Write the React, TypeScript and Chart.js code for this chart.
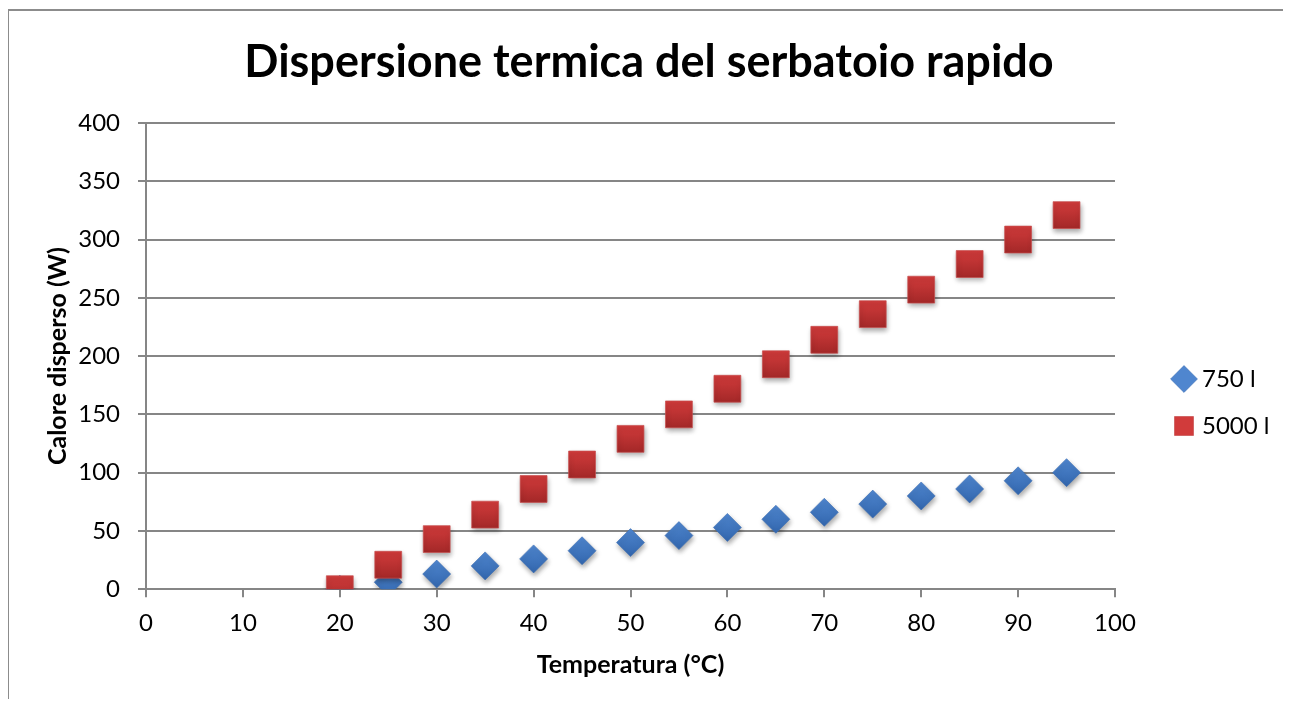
import React, { useEffect, useRef } from "react";
import { Chart, registerables } from "chart.js";

Chart.register(...registerables);

const temps750: number[] = [20, 25, 30, 35, 40, 45, 50, 55, 60, 65, 70, 75, 80, 85, 90, 95];
const heat750: number[] = [0, 6, 13, 20, 26, 33, 40, 46, 53, 60, 66, 73, 80, 86, 93, 100];
const temps5000: number[] = [20, 25, 30, 35, 40, 45, 50, 55, 60, 65, 70, 75, 80, 85, 90, 95];
const heat5000: number[] = [0, 21, 43, 64, 86, 107, 129, 150, 172, 193, 214, 236, 257, 279, 300, 321];
const seriesNames: string[] = ["750 l", "5000 l"];
const titleText = "Dispersione termica del serbatoio rapido";
const xTitle = "Temperatura (°C)";
const yTitle = "Calore disperso (W)";

const FONT = "Lato";
const Y_AXIS_WIDTH = 107;
const LEGEND_WIDTH = 144;
const LEGEND_SHIFT = 40;

function gradFill(top: string, bottom: string, half: number) {
  return (ctx: any) => {
    const chart = ctx.chart;
    const raw = ctx.raw;
    if (!raw || !chart.scales || !chart.scales.y) return top;
    const y = chart.scales.y.getPixelForValue(raw.y);
    if (!isFinite(y)) return top;
    const g = chart.ctx.createLinearGradient(0, y - half, 0, y + half);
    g.addColorStop(0, top);
    g.addColorStop(1, bottom);
    return g;
  };
}

const shadowPlugin = {
  id: "markerShadow",
  beforeDatasetsDraw(chart: any) {
    const c = chart.ctx;
    c.save();
    c.shadowColor = "rgba(0,0,0,0.35)";
    c.shadowBlur = 5;
    c.shadowOffsetX = 1;
    c.shadowOffsetY = 3;
  },
  afterDatasetsDraw(chart: any) {
    chart.ctx.restore();
  },
};

const legendLayoutPlugin = {
  id: "legendLayout",
  beforeLayout(chart: any) {
    const lg = chart.legend;
    if (lg && !lg._patchedFit) {
      const orig = lg.fit.bind(lg);
      lg.fit = function () {
        orig();
        this.width = LEGEND_WIDTH;
      };
      lg._patchedFit = true;
    }
  },
  afterLayout(chart: any) {
    const lg = chart.legend;
    if (lg) {
      lg.left += LEGEND_SHIFT;
      lg.right += LEGEND_SHIFT;
    }
  },
};

export default function App() {
  const ref = useRef<HTMLCanvasElement | null>(null);
  useEffect(() => {
    if (!ref.current) return;
    const chart = new Chart(ref.current, {
      type: "scatter",
      data: {
        datasets: [
          {
            label: seriesNames[0],
            data: temps750.map((t, i) => ({ x: t, y: heat750[i] })),
            order: 1,
            pointStyle: "rectRot",
            pointRadius: 14,
            pointHoverRadius: 14,
            backgroundColor: gradFill("#4f86cf", "#3266ad", 14),
            borderColor: "rgba(60,110,180,0.6)",
            borderWidth: 1,
          },
          {
            label: seriesNames[1],
            data: temps5000.map((t, i) => ({ x: t, y: heat5000[i] })),
            order: 0,
            pointStyle: "rect",
            pointRadius: 19,
            pointHoverRadius: 19,
            backgroundColor: gradFill("#d13b3b", "#a42828", 13),
            borderColor: "rgba(200,80,80,0.7)",
            borderWidth: 1,
          },
        ],
      },
      options: {
        animation: false,
        responsive: false,
        maintainAspectRatio: false,
        layout: { padding: { left: 30, right: 30, top: 0, bottom: 15 } },
        plugins: {
          title: {
            display: true,
            text: titleText,
            color: "#000",
            font: { family: FONT, size: 45, weight: "bold" },
            padding: { top: 24, bottom: 34 },
          },
          legend: {
            position: "right",
            reverse: true,
            title: { display: true, text: " ", font: { size: 10 }, padding: { top: 0, bottom: 98 } },
            labels: {
              usePointStyle: true,
              color: "#000",
              font: { family: FONT, size: 24 },
              padding: 23,
              boxWidth: 12,
              boxHeight: 19,
            },
          },
          tooltip: { enabled: false },
        },
        scales: {
          x: {
            type: "linear",
            min: 0,
            max: 100,
            ticks: { stepSize: 10, color: "#000", font: { family: FONT, size: 24 }, padding: 12 },
            grid: { drawOnChartArea: false, drawTicks: true, tickLength: 8, color: "#868686", lineWidth: 2 },
            border: { display: true, color: "#868686", width: 2 },
            title: {
              display: true,
              text: xTitle,
              color: "#000",
              font: { family: FONT, size: 25, weight: "bold" },
              padding: { top: 0, bottom: 4 },
            },
          },
          y: {
            type: "linear",
            min: 0,
            max: 400,
            afterFit: (scale: any) => {
              scale.width = Y_AXIS_WIDTH;
            },
            ticks: { stepSize: 50, color: "#000", font: { family: FONT, size: 24 }, padding: 18 },
            grid: { drawTicks: true, tickLength: 8, color: "#868686", lineWidth: 2 },
            border: { display: true, color: "#868686", width: 2 },
            title: {
              display: true,
              text: yTitle,
              color: "#000",
              font: { family: FONT, size: 25, weight: "bold" },
              padding: { top: 4, bottom: 8 },
            },
          },
        },
      },
      plugins: [shadowPlugin, legendLayoutPlugin],
    });
    return () => chart.destroy();
  }, []);
  return (
    <div
      style={{
        marginLeft: -1,
        marginTop: 1,
        borderLeft: "2px solid #8c8c8c",
        borderTop: "2px solid #8c8c8c",
        width: 1280,
        height: 688,
        overflow: "hidden",
        background: "#fff",
      }}
    >
      <canvas ref={ref} width={1280} height={688} style={{ display: "block" }} />
    </div>
  );
}
